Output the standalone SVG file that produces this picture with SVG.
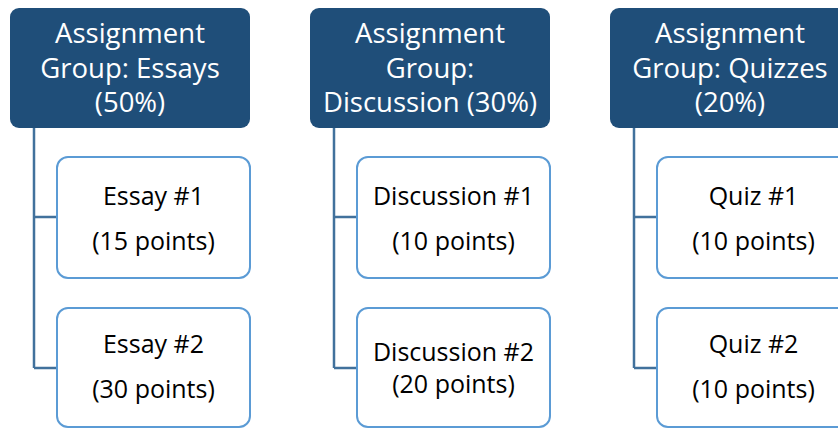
<svg xmlns="http://www.w3.org/2000/svg" width="838" height="430" viewBox="0 0 838 430">
<style>
.hdr{fill:#1f4e79;}
.ht{fill:#ffffff;font-family:"Open Sans","Liberation Sans",sans-serif;font-size:27.5px;text-anchor:middle;}
.child{fill:#ffffff;stroke:#5b9bd5;stroke-width:2;}
.ct{fill:#000000;font-family:"Open Sans","Liberation Sans",sans-serif;font-size:25px;text-anchor:middle;}
.conn{fill:none;stroke:#41719c;stroke-width:2.5;}
</style>
<rect width="838" height="430" fill="#ffffff"/>
<g id="connectors">
<path class="conn" d="M34,128 V368 M34,217 H57 M34,368 H57"/>
<path class="conn" d="M334,128 V368 M334,217 H357 M334,368 H357"/>
<path class="conn" d="M634,128 V368 M634,217 H657 M634,368 H657"/>
</g>
<g id="essays">
<rect class="hdr" x="10" y="8" width="240" height="120" rx="9"/>
<text class="ht" x="130" y="43">Assignment</text>
<text class="ht" x="130" y="77.5">Group: Essays</text>
<text class="ht" x="130" y="112">(50%)</text>
</g>
<g id="essay1">
<rect class="child" x="57" y="157" width="193" height="121" rx="11"/>
<text class="ct" x="153.5" y="205">Essay #1</text>
<text class="ct" x="153.5" y="250">(15 points)</text>
</g>
<g id="essay2">
<rect class="child" x="57" y="308" width="193" height="119" rx="11"/>
<text class="ct" x="153.5" y="353">Essay #2</text>
<text class="ct" x="153.5" y="398">(30 points)</text>
</g>
<g id="discussion">
<rect class="hdr" x="310" y="8" width="240" height="120" rx="9"/>
<text class="ht" x="430" y="43">Assignment</text>
<text class="ht" x="430" y="77.5">Group:</text>
<text class="ht" x="430" y="112">Discussion (30%)</text>
</g>
<g id="discussion1">
<rect class="child" x="357" y="157" width="193" height="121" rx="11"/>
<text class="ct" x="453.5" y="205">Discussion #1</text>
<text class="ct" x="453.5" y="250">(10 points)</text>
</g>
<g id="discussion2">
<rect class="child" x="357" y="308" width="193" height="119" rx="11"/>
<text class="ct" x="453.5" y="361">Discussion #2</text>
<text class="ct" x="453.5" y="393">(20 points)</text>
</g>
<g id="quizzes">
<rect class="hdr" x="610" y="8" width="240" height="120" rx="9"/>
<text class="ht" x="730" y="43">Assignment</text>
<text class="ht" x="730" y="77.5">Group: Quizzes</text>
<text class="ht" x="730" y="112">(20%)</text>
</g>
<g id="quiz1">
<rect class="child" x="657" y="157" width="193" height="121" rx="11"/>
<text class="ct" x="753.5" y="205">Quiz #1</text>
<text class="ct" x="753.5" y="250">(10 points)</text>
</g>
<g id="quiz2">
<rect class="child" x="657" y="308" width="193" height="119" rx="11"/>
<text class="ct" x="753.5" y="353">Quiz #2</text>
<text class="ct" x="753.5" y="398">(10 points)</text>
</g>
</svg>
